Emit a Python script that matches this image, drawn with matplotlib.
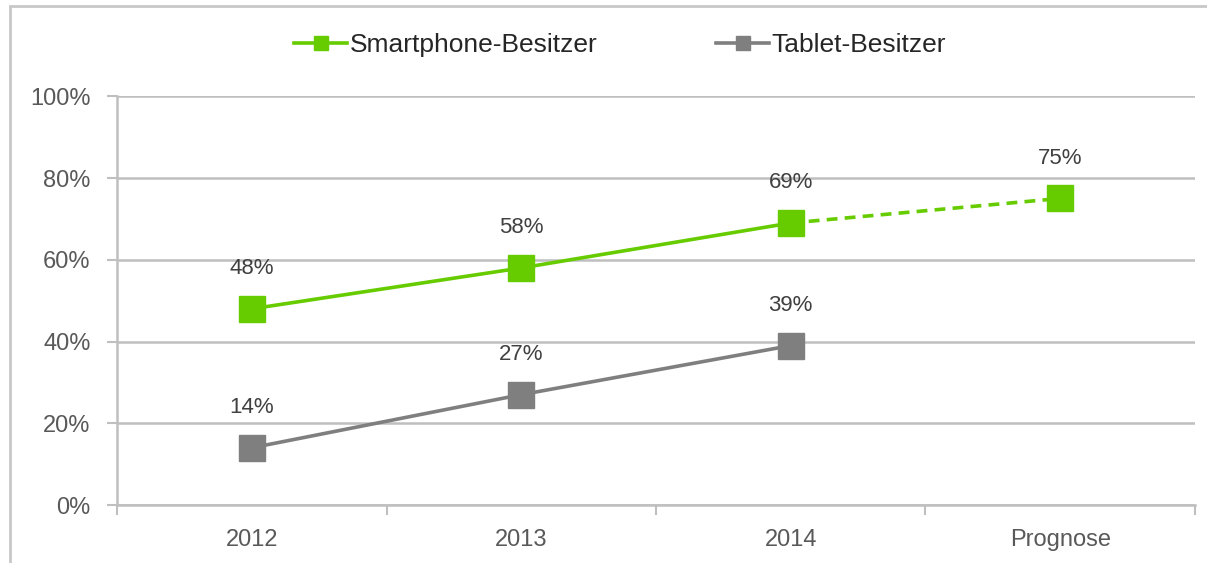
import matplotlib.pyplot as plt
from matplotlib.lines import Line2D
from matplotlib.patches import Rectangle

plt.rcParams['font.family'] = ['Liberation Sans', 'DejaVu Sans']

categories = ["2012", "2013", "2014", "Prognose"]
smartphone = [48, 58, 69, 75]
tablet = [14, 27, 39]
yticks = [0, 20, 40, 60, 80, 100]

green = "#66CC00"
grey = "#7F7F7F"

fig = plt.figure(figsize=(12.07, 5.63), dpi=100)
ax = fig.add_axes([0.097, 0.103, 0.893, 0.726])

x = list(range(len(categories)))

# solid part for real years, dashed to the forecast
ax.plot(x[:3], smartphone[:3], color=green, lw=2.6, zorder=3)
ax.plot(x[2:], smartphone[2:], color=green, lw=2.6, ls=(0, (3, 2)), zorder=3)
ax.plot(x, smartphone, ls="none", marker="s", ms=19, color=green, zorder=4)
ax.plot(x[:3], tablet, color=grey, lw=2.6, marker="s", ms=19, zorder=4)

for xi, v in zip(x, smartphone):
    ax.annotate(f"{v}%", (xi, v), xytext=(0, 29), textcoords="offset points",
                ha="center", va="center", fontsize=16, color="#404040")
for xi, v in zip(x, tablet):
    ax.annotate(f"{v}%", (xi, v), xytext=(0, 29), textcoords="offset points",
                ha="center", va="center", fontsize=16, color="#404040")

ax.set_xlim(-0.5, 3.5)
ax.set_ylim(0, 100)
ax.set_yticks(yticks)
ax.set_yticklabels([f"{t}%" for t in yticks])
ax.set_xticks(x)
ax.set_xticklabels(categories)
ax.set_xticks([i - 0.5 for i in range(len(categories) + 1)], minor=True)
ax.tick_params(axis="x", which="major", length=0, pad=17, labelsize=17, labelcolor="#595959")
ax.tick_params(axis="x", which="minor", length=7, width=1.5, color="#BFBFBF")
ax.tick_params(axis="y", length=7, width=1.5, color="#BFBFBF", pad=12, labelsize=17, labelcolor="#595959")

ax.grid(axis="y", color="#BFBFBF", lw=1.8)
ax.set_axisbelow(True)
for s in ["top", "right"]:
    ax.spines[s].set_visible(False)
for s in ["left", "bottom"]:
    ax.spines[s].set_color("#BFBFBF")
    ax.spines[s].set_linewidth(1.8)

handles = [
    Line2D([], [], color=green, lw=2.6, marker="s", ms=10),
    Line2D([], [], color=grey, lw=2.6, marker="s", ms=10),
]
fig.legend(handles, ["Smartphone-Besitzer", "Tablet-Besitzer"], loc="center",
           bbox_to_anchor=(0.514, 0.92), ncol=2, frameon=False, fontsize=19,
           handlelength=2.0, handletextpad=0.1, columnspacing=4.5, labelcolor="#262626")

fig.patches.append(Rectangle((0.008, -0.02), 1.0, 1.01, transform=fig.transFigure,
                             fill=False, edgecolor="#C8C8C8", lw=2))

fig.savefig("out.png", dpi=100)
